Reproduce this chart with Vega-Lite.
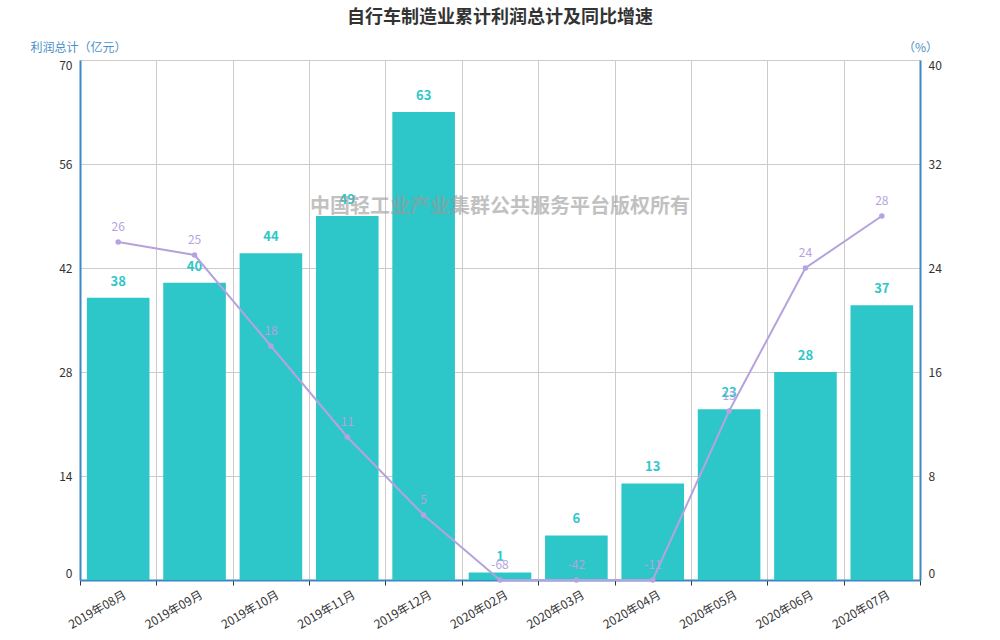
{
  "$schema": "https://vega.github.io/schema/vega-lite/v6.json",
  "width": 840,
  "height": 520,
  "autosize": {"type": "none"},
  "padding": {"left": 80, "top": 60, "right": 80, "bottom": 60},
  "background": "white",
  "title": {"text": "自行车制造业累计利润总计及同比增速", "fontSize": 18, "fontWeight": "bold", "color": "#333333", "font": "Noto Sans CJK SC", "offset": 14, "anchor": "middle"},
  "config": {
    "view": {"stroke": null},
    "font": "Noto Sans CJK SC",
    "axis": {"labelFont": "Noto Sans CJK SC", "titleFont": "Noto Sans CJK SC"}
  },
  "data": {"values": [
    {"month": "2019年08月", "profit": 38, "growth": 26},
    {"month": "2019年09月", "profit": 40, "growth": 25},
    {"month": "2019年10月", "profit": 44, "growth": 18},
    {"month": "2019年11月", "profit": 49, "growth": 11},
    {"month": "2019年12月", "profit": 63, "growth": 5},
    {"month": "2020年02月", "profit": 1, "growth": -68},
    {"month": "2020年03月", "profit": 6, "growth": -42},
    {"month": "2020年04月", "profit": 13, "growth": -11},
    {"month": "2020年05月", "profit": 23, "growth": 13},
    {"month": "2020年06月", "profit": 28, "growth": 24},
    {"month": "2020年07月", "profit": 37, "growth": 28}
  ]},
  "encoding": {
    "x": {
      "field": "month", "type": "nominal", "sort": null,
      "scale": {"paddingInner": 0, "paddingOuter": 0},
      "axis": {
        "title": null, "tickBand": "extent", "grid": true, "gridColor": "#cccccc", "gridWidth": 1,
        "domainColor": "#3c88c4", "domainWidth": 2, "tickColor": "#333333", "tickSize": 5,
        "labelAngle": -30, "labelAlign": "right", "labelBaseline": "top", "labelColor": "#333333",
        "labelFontSize": 12, "labelPadding": 4, "labelOffset": 4
      }
    }
  },
  "layer": [
    {
      "layer": [
        {
          "mark": {"type": "bar", "color": "#2ec7c9", "width": {"band": 0.82}},
          "encoding": {
            "y": {
              "field": "profit", "type": "quantitative",
              "scale": {"domain": [0, 70], "nice": false},
              "axis": {
                "values": [0, 14, 28, 42, 56, 70], "grid": true, "gridColor": "#cccccc",
                "domainColor": "#3c88c4", "domainWidth": 2, "ticks": false, "labelPadding": 8,
                "labelColor": "#333333", "labelFontSize": 12, "labelFlush": true,
                "title": "利润总计（亿元）", "titleAngle": 0, "titleAlign": "center", "titleBaseline": "middle",
                "titleX": -2, "titleY": -13, "titleColor": "#4a90c8", "titleFontSize": 12, "titleFontWeight": "normal"
              }
            }
          }
        },
        {
          "mark": {"type": "text", "color": "#2ec7c9", "fontWeight": "bold", "fontSize": 13, "baseline": "bottom", "dy": -9},
          "encoding": {
            "y": {"field": "profit", "type": "quantitative"},
            "text": {"field": "profit", "type": "nominal"}
          }
        },
        {
          "data": {"values": [{"month": "2020年02月", "v": 50.2, "wm": "中国轻工业产业集群公共服务平台版权所有"}]},
          "mark": {"type": "text", "color": "#999999", "opacity": 0.6, "fontWeight": "bold", "fontSize": 20, "baseline": "middle", "align": "center"},
          "encoding": {
            "y": {"field": "v", "type": "quantitative"},
            "text": {"field": "wm"}
          }
        }
      ]
    },
    {
      "layer": [
        {
          "mark": {"type": "line", "color": "#b6a2de", "strokeWidth": 2},
          "encoding": {
            "y": {
              "field": "growth", "type": "quantitative",
              "scale": {"domain": [0, 40], "nice": false, "clamp": true},
              "axis": {
                "orient": "right", "values": [0, 8, 16, 24, 32, 40], "grid": false,
                "domainColor": "#3c88c4", "domainWidth": 2, "ticks": false, "labelPadding": 8,
                "labelColor": "#333333", "labelFontSize": 12, "labelFlush": true,
                "title": "（%）", "titleAngle": 0, "titleAlign": "center", "titleBaseline": "middle",
                "titleX": 0, "titleY": -13, "titleColor": "#4a90c8", "titleFontSize": 12, "titleFontWeight": "normal"
              }
            }
          }
        },
        {
          "mark": {"type": "point", "filled": true, "color": "#b6a2de", "size": 30, "opacity": 1},
          "encoding": {"y": {"field": "growth", "type": "quantitative"}}
        },
        {
          "mark": {"type": "text", "color": "#b6a2de", "fontSize": 12, "baseline": "bottom", "dy": -8},
          "encoding": {
            "y": {"field": "growth", "type": "quantitative"},
            "text": {"field": "growth", "type": "nominal"}
          }
        }
      ]
    }
  ],
  "resolve": {"scale": {"y": "independent"}}
}
